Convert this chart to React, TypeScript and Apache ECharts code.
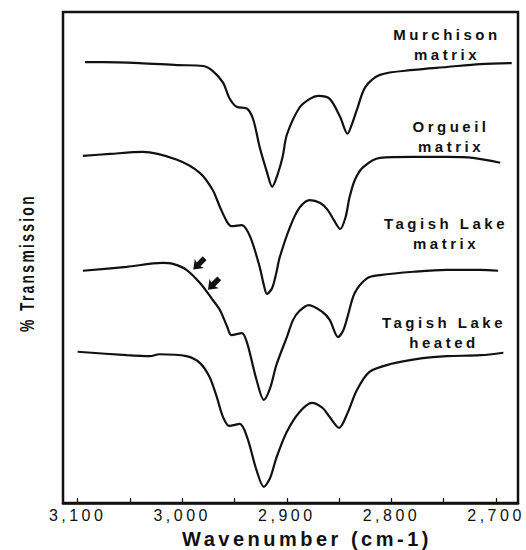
import React, { useEffect, useRef } from "react";
import * as echarts from "echarts";

// Axis ticks and labels (wavenumber, cm-1)
const xTickValues = [3100, 3050, 3000, 2950, 2900, 2850, 2800, 2750, 2700];
const xLabelValues = [3100, 3000, 2900, 2800, 2700];

// Murchison matrix (wavenumber, % transmission in arbitrary units)
const murchisonWn = [3093, 3076, 3041, 3005, 2980, 2971, 2961, 2955, 2948, 2938, 2932, 2926, 2919, 2914, 2909, 2904, 2900, 2888, 2878, 2870, 2859, 2849, 2842, 2838, 2833, 2825, 2811, 2779, 2747, 2715, 2685];
const murchisonT = [89.8, 89.8, 89.6, 89.2, 89.0, 88.0, 85.6, 82.5, 80.7, 80.3, 78.0, 72.5, 67.4, 64.4, 66.8, 70.5, 75.0, 80.5, 82.3, 82.9, 82.3, 78.6, 75.2, 77.0, 80.1, 84.7, 87.2, 88.2, 88.8, 89.4, 89.6];

// Orgueil matrix
const orgueilWn = [3095, 3069, 3038, 3005, 2983, 2971, 2964, 2957, 2953, 2943, 2935, 2926, 2922, 2919, 2914, 2910, 2907, 2897, 2888, 2878, 2868, 2861, 2855, 2849, 2844, 2840, 2835, 2827, 2811, 2779, 2747, 2722, 2696];
const orgueilT = [70.7, 71.1, 71.5, 69.9, 67.2, 63.8, 60.3, 57.2, 56.4, 56.6, 54.2, 48.1, 44.4, 42.6, 43.8, 46.9, 49.9, 56.2, 60.1, 61.7, 61.1, 59.7, 57.6, 55.8, 58.1, 62.3, 65.8, 68.4, 70.3, 70.5, 70.5, 70.3, 69.3];

// Tagish Lake matrix
const tagishWn = [3095, 3053, 3019, 3009, 2996, 2983, 2971, 2964, 2957, 2953, 2943, 2938, 2929, 2922, 2916, 2910, 2900, 2894, 2888, 2879, 2866, 2859, 2851, 2846, 2842, 2835, 2823, 2811, 2779, 2747, 2715, 2698];
const tagishT = [47.3, 48.1, 48.9, 48.7, 47.5, 44.8, 41.4, 39.3, 35.9, 34.2, 34.6, 32.6, 25.1, 21.0, 23.4, 28.1, 33.8, 37.3, 39.1, 40.3, 38.9, 37.3, 33.8, 35.2, 37.9, 42.8, 45.8, 46.4, 47.1, 47.5, 47.5, 47.3];

// Tagish Lake heated
const heatedWn = [3100, 3053, 3031, 3022, 2996, 2983, 2974, 2967, 2961, 2955, 2945, 2938, 2929, 2922, 2916, 2910, 2900, 2888, 2876, 2866, 2859, 2850, 2842, 2833, 2821, 2801, 2770, 2747, 2715, 2693];
const heatedT = [30.8, 30.1, 29.9, 30.3, 29.9, 28.5, 25.7, 21.6, 17.5, 15.7, 16.1, 13.4, 6.7, 3.3, 5.1, 9.2, 14.5, 18.5, 20.4, 19.4, 17.5, 15.3, 18.3, 23.0, 26.7, 28.3, 29.5, 29.9, 30.1, 30.6];

// Arrow annotations on Tagish Lake matrix
const arrowWn = [2984, 2970];
const arrowT = [48.7, 44.6];

const seriesNames = ["Murchison matrix", "Orgueil matrix", "Tagish Lake matrix", "Tagish Lake heated"];

const zip = (xs: number[], ys: number[]) => xs.map((x, i) => [x, ys[i]]);

const ARROW_PATH = "path://M6 0 L12 7 L8.5 6 L8.5 13 L3.5 13 L3.5 6 L0 7 Z";
const FONT = '"Liberation Sans", Arial, sans-serif';

export default function App() {
  const ref = useRef<HTMLDivElement>(null);

  useEffect(() => {
    if (!ref.current) return;
    const chart = echarts.init(ref.current, undefined, { renderer: "svg" });
    const lineStyle = { color: "#111", width: 2.2 };
    const mk = (name: string, data: number[][], extra: any = {}) => ({
      name,
      type: "line",
      data,
      smooth: 0.3,
      showSymbol: false,
      symbol: "none",
      lineStyle,
      silent: true,
      ...extra,
    });
    const labelStyle = (text: string) => ({
      text,
      fontSize: 15,
      fontWeight: "bold",
      fontFamily: FONT,
      lineHeight: 20,
      fill: "#111",
      align: "center",
      verticalAlign: "middle",
    });
    const option: any = {
      animation: false,
      backgroundColor: "#fff",
      grid: {
        left: 63,
        right: 8,
        top: 12,
        bottom: 47,
        show: true,
        borderColor: "#111",
        borderWidth: 2.5,
        containLabel: false,
        outerBoundsMode: "none",
      },
      xAxis: {
        type: "value",
        inverse: true,
        min: 2679,
        max: 3114,
        axisLine: { show: true, lineStyle: { color: "#111", width: 2.5 } },
        axisTick: {
          show: true,
          inside: true,
          length: 5,
          customValues: xTickValues,
          lineStyle: { color: "#111", width: 1.2 },
        },
        axisLabel: {
          show: true,
          customValues: xLabelValues,
          margin: 4,
          color: "#111",
          fontSize: 16,
          fontFamily: FONT,
          formatter: (v: number) => v.toLocaleString("en-US"),
        },
        splitLine: { show: false },
      },
      yAxis: {
        type: "value",
        min: 0,
        max: 100,
        show: false,
      },
      series: [
        mk(seriesNames[0], zip(murchisonWn, murchisonT)),
        mk(seriesNames[1], zip(orgueilWn, orgueilT)),
        mk(seriesNames[2], zip(tagishWn, tagishT), {
          markPoint: {
            silent: true,
            symbol: ARROW_PATH,
            symbolSize: [13, 16],
            symbolRotate: 135,
            itemStyle: { color: "#111" },
            label: { show: false },
            data: arrowWn.map((w, i) => ({ coord: [w, arrowT[i]] })),
          },
        }),
        mk(seriesNames[3], zip(heatedWn, heatedT)),
      ],
      graphic: [
        {
          type: "text",
          x: 27,
          y: 263,
          rotation: Math.PI / 2,
          scaleX: 0.66,
          style: {
            text: "% Transmission",
            fontSize: 21,
            fontWeight: "bold",
            fontFamily: FONT,
            fill: "#111",
            align: "center",
            verticalAlign: "middle",
          },
        },
        {
          type: "text",
          x: 307,
          y: 539,
          style: {
            text: "Wavenumber (cm-1)",
            fontSize: 20,
            fontWeight: "bold",
            fontFamily: FONT,
            fill: "#111",
            align: "center",
            verticalAlign: "middle",
          },
        },
        { type: "text", x: 447, y: 44, style: labelStyle("Murchison\nmatrix") },
        { type: "text", x: 451, y: 136, style: labelStyle("Orgueil\nmatrix") },
        { type: "text", x: 446, y: 233, style: labelStyle("Tagish Lake\nmatrix") },
        { type: "text", x: 444, y: 332, style: labelStyle("Tagish Lake\nheated") },
      ],
    };
    chart.setOption(option);
    return () => chart.dispose();
  }, []);

  return (
    <>
      <style>{`.ir-chart text { letter-spacing: 3.5px; }`}</style>
      <div
        ref={ref}
        className="ir-chart"
        style={{ position: "absolute", left: 0, top: 0, width: 526, height: 550, background: "#fff" }}
      />
    </>
  );
}
